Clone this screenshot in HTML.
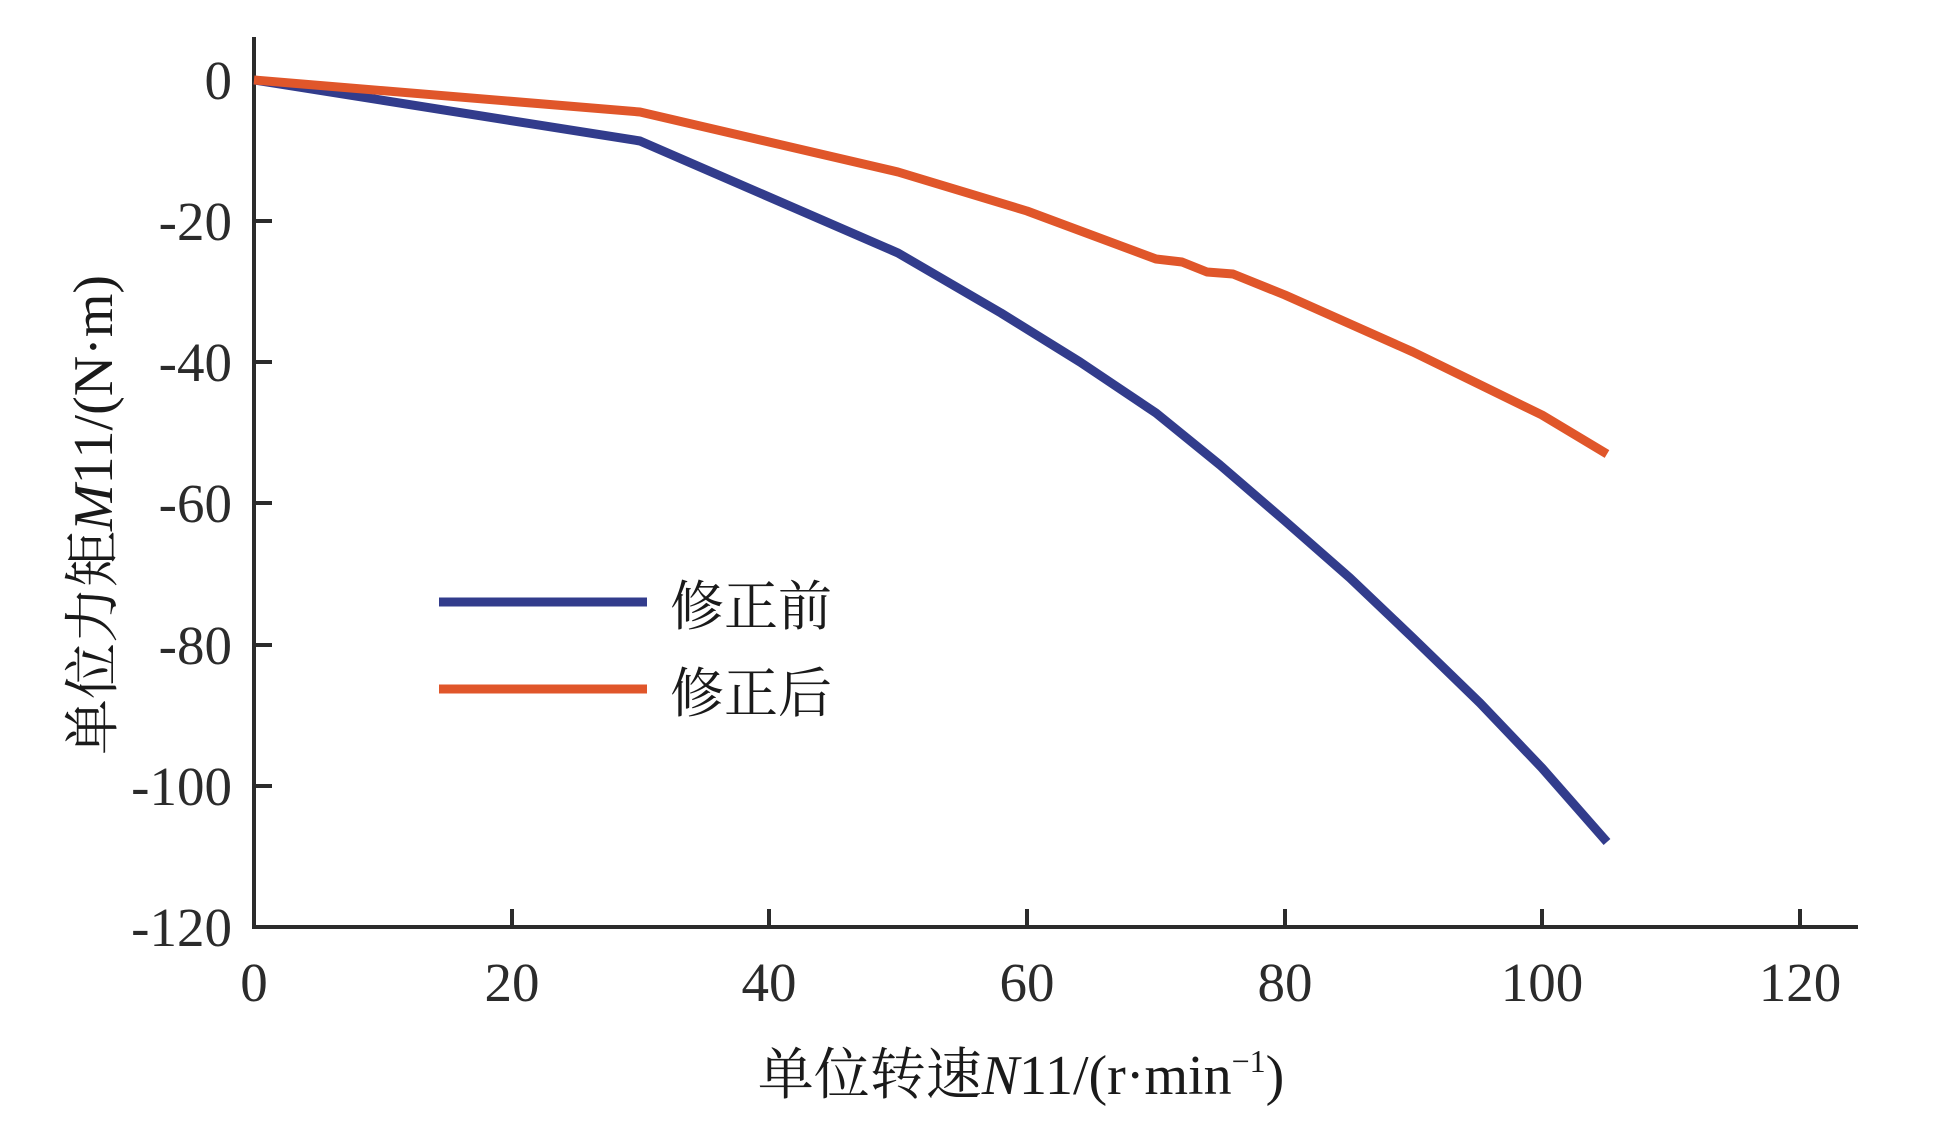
<!DOCTYPE html>
<html><head><meta charset="utf-8"><style>html,body{margin:0;padding:0;background:#fff;}</style></head>
<body>
<svg width="1937" height="1127" viewBox="0 0 1937 1127" xmlns="http://www.w3.org/2000/svg">
<g stroke="#2b2b2b" stroke-width="4" fill="none">
<line x1="254" y1="37" x2="254" y2="929"/>
<line x1="252" y1="927" x2="1858" y2="927"/>
<line x1="254" y1="221" x2="272" y2="221"/>
<line x1="254" y1="362" x2="272" y2="362"/>
<line x1="254" y1="503" x2="272" y2="503"/>
<line x1="254" y1="645" x2="272" y2="645"/>
<line x1="254" y1="786" x2="272" y2="786"/>
<line x1="512" y1="927" x2="512" y2="909"/>
<line x1="769" y1="927" x2="769" y2="909"/>
<line x1="1027" y1="927" x2="1027" y2="909"/>
<line x1="1285" y1="927" x2="1285" y2="909"/>
<line x1="1542" y1="927" x2="1542" y2="909"/>
<line x1="1800" y1="927" x2="1800" y2="909"/>
</g>
<g font-family="'Liberation Serif', serif" font-size="55" fill="#2b2b2b" text-anchor="end">
<text x="232" y="99">0</text>
<text x="232" y="240">-20</text>
<text x="232" y="381">-40</text>
<text x="232" y="522">-60</text>
<text x="232" y="664">-80</text>
<text x="232" y="805">-100</text>
<text x="232" y="946">-120</text>
</g>
<g font-family="'Liberation Serif', serif" font-size="55" fill="#2b2b2b" text-anchor="middle">
<text x="254" y="1001">0</text>
<text x="512" y="1001">20</text>
<text x="769" y="1001">40</text>
<text x="1027" y="1001">60</text>
<text x="1285" y="1001">80</text>
<text x="1542" y="1001">100</text>
<text x="1800" y="1001">120</text>
</g>
<polyline fill="none" stroke="#323c8c" stroke-width="9" stroke-linejoin="round" points="254,80 640,141 898,253 1001,313 1080,362 1156,413 1220,465 1285,521 1350,578 1413,638 1480,703 1542,768 1607,842"/>
<polyline fill="none" stroke="#e0562a" stroke-width="9" stroke-linejoin="round" points="254,80 640,112 898,172 1027,211 1156,259 1182,262 1207,272 1233,274 1285,295 1413,352 1542,415 1607,454"/>
<line x1="439" y1="602" x2="647" y2="602" stroke="#323c8c" stroke-width="9"/>
<line x1="439" y1="689" x2="647" y2="689" stroke="#e0562a" stroke-width="9"/>
<g font-family="'Liberation Serif', 'Noto Serif CJK SC', serif" font-size="54" fill="#1a1a1a">
<text x="670" y="625">修正前</text>
<text x="670" y="712">修正后</text>
</g>
<text x="1021" y="1094" text-anchor="middle" font-family="'Liberation Serif', 'Noto Serif CJK SC', serif" font-size="56" fill="#1a1a1a">单位转速<tspan font-style="italic">N</tspan>11/(r·min<tspan font-size="32" dy="-22">−1</tspan><tspan dy="22">)</tspan></text>
<text transform="translate(112,515) rotate(-90)" text-anchor="middle" font-family="'Liberation Serif', 'Noto Serif CJK SC', serif" font-size="56" fill="#1a1a1a">单位力矩<tspan font-style="italic">M</tspan>11/(N·m)</text>
</svg>
</body></html>
